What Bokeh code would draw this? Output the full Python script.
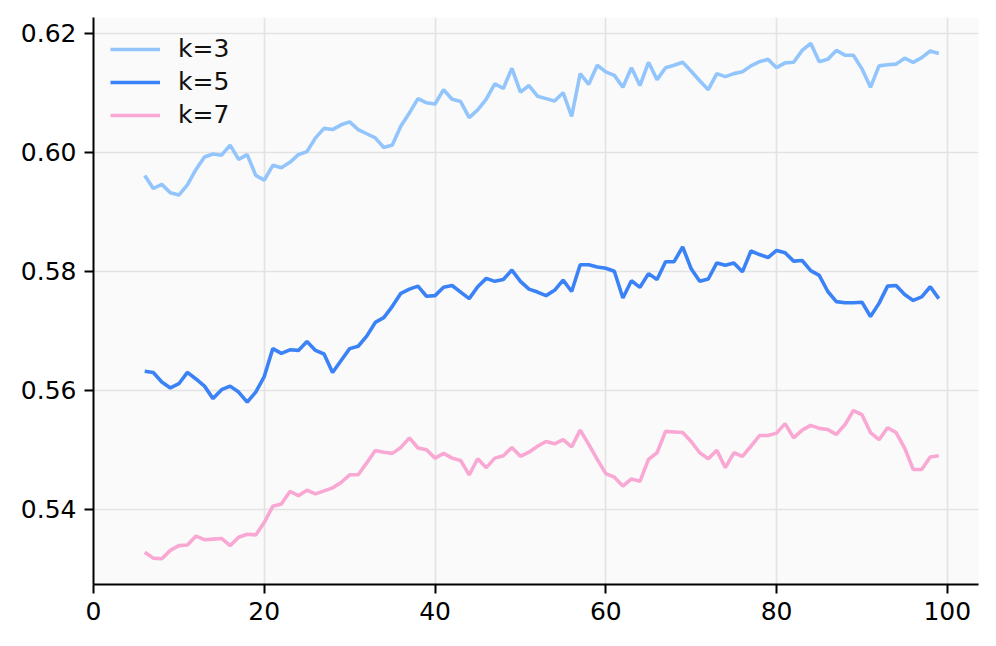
from bokeh.plotting import figure
from bokeh.models import FixedTicker, PrintfTickFormatter, Range1d, Legend, LegendItem
from bokeh.embed import file_html
from bokeh.resources import INLINE

x = list(range(6, 100))

k3 = [0.5961, 0.5939, 0.5946, 0.5932, 0.5928, 0.5945, 0.5971, 0.5992, 0.5997, 0.5995,
      0.6012, 0.5988, 0.5996, 0.5961, 0.5953, 0.5978, 0.5974, 0.5983, 0.5996, 0.6001,
      0.6024, 0.6040, 0.6038, 0.6046, 0.6051, 0.6038, 0.6031, 0.6024, 0.6008,
      0.6012, 0.6044, 0.6066, 0.6090, 0.6083, 0.6081, 0.6105, 0.6089, 0.6085, 0.6058,
      0.6071, 0.6089, 0.6115, 0.6107, 0.6141, 0.6101, 0.6112, 0.6094, 0.6090, 0.6086,
      0.6100, 0.6060, 0.6132, 0.6114, 0.6146, 0.6135, 0.6129, 0.6109, 0.6142, 0.6112,
      0.6151, 0.6122, 0.6142,
      0.6146, 0.6151, 0.6136, 0.6120, 0.6105, 0.6132, 0.6127, 0.6132, 0.6135, 0.6145,
      0.6152, 0.6156, 0.6142, 0.6150, 0.6151, 0.6171, 0.6183, 0.6152, 0.6156, 0.6171,
      0.6163, 0.6163, 0.6140, 0.6109, 0.6145, 0.6147, 0.6148, 0.6158, 0.6151, 0.6159,
      0.6170, 0.6166]

k5 = [0.5632, 0.5630, 0.5614, 0.5604, 0.5611, 0.5630, 0.5619, 0.5607, 0.5586, 0.5601,
      0.5607, 0.5597, 0.5580, 0.5597, 0.5623, 0.5670, 0.5662, 0.5668, 0.5667, 0.5682,
      0.5667, 0.5661, 0.5630, 0.5650, 0.5670, 0.5674, 0.5691, 0.5714, 0.5722,
      0.5741, 0.5763, 0.5770, 0.5775, 0.5758, 0.5759, 0.5773, 0.5776, 0.5765, 0.5754,
      0.5774, 0.5788, 0.5783, 0.5786, 0.5802, 0.5783, 0.5770, 0.5765, 0.5759, 0.5768,
      0.5785, 0.5766, 0.5811, 0.5811, 0.5807, 0.5805, 0.5800, 0.5755, 0.5784, 0.5773,
      0.5796, 0.5786, 0.5816,
      0.5816, 0.5841, 0.5804, 0.5783, 0.5787, 0.5814, 0.5810, 0.5814, 0.5799, 0.5834,
      0.5828, 0.5823, 0.5835, 0.5831, 0.5817, 0.5818, 0.5801, 0.5793, 0.5766, 0.5749,
      0.5747, 0.5747, 0.5748, 0.5724, 0.5746, 0.5775, 0.5776, 0.5761, 0.5751, 0.5757,
      0.5774, 0.5754]

k7 = [0.5328, 0.5318, 0.5317, 0.5331, 0.5339, 0.5340, 0.5355, 0.5349, 0.5350, 0.5351,
      0.5339, 0.5353, 0.5358, 0.5357, 0.5378, 0.5405, 0.5409, 0.5430, 0.5423, 0.5432,
      0.5426, 0.5431, 0.5436, 0.5445, 0.5458, 0.5458, 0.5478, 0.5499, 0.5496,
      0.5494, 0.5504, 0.5520, 0.5503, 0.5500, 0.5486, 0.5494, 0.5486, 0.5482, 0.5458,
      0.5485, 0.5470, 0.5486, 0.5490, 0.5504, 0.5489, 0.5496, 0.5506, 0.5514, 0.5510,
      0.5517, 0.5505, 0.5533, 0.5509, 0.5484, 0.5460, 0.5454, 0.5439, 0.5451, 0.5447,
      0.5484, 0.5495, 0.5531,
      0.5530, 0.5529, 0.5514, 0.5495, 0.5485, 0.5499, 0.5470, 0.5495, 0.5489, 0.5506,
      0.5524, 0.5524, 0.5528, 0.5544, 0.5520, 0.5533, 0.5541, 0.5536, 0.5534, 0.5526,
      0.5542, 0.5566, 0.5559, 0.5529, 0.5517, 0.5537, 0.5529, 0.5503, 0.5467, 0.5467,
      0.5488, 0.5490]

labels = ["k=3", "k=5", "k=7"]
colors = ["#93c5fd", "#3b82f6", "#f9a8d4"]
x_ticks = [0, 20, 40, 60, 80, 100]
y_ticks = [0.54, 0.56, 0.58, 0.60, 0.62]

FONT = "DejaVu Sans"
FS = "25px"

p = figure(width=980, height=630, output_backend="svg", toolbar_location=None,
           x_range=Range1d(0, 103.65), y_range=Range1d(0.52737, 0.62263),
           min_border_left=93, min_border_right=2, min_border_top=17, min_border_bottom=46)

p.background_fill_color = "#fafafa"
p.border_fill_color = "white"
p.outline_line_color = None

items = []
for series, lab, col in zip([k3, k5, k7], labels, colors):
    r = p.line(x, series, line_color=col, line_width=3.6)
    items.append(LegendItem(label=lab, renderers=[r]))

legend = Legend(items=items, location="top_left")
legend.background_fill_alpha = 0
legend.border_line_color = None
legend.label_text_font = FONT
legend.label_text_font_size = FS
legend.label_text_color = "#111111"
legend.glyph_width = 50
legend.glyph_height = 24
legend.label_height = 24
legend.spacing = 4
legend.margin = 17
legend.padding = 10
legend.label_standoff = 18
p.add_layout(legend)

for ax in (p.xaxis[0], p.yaxis[0]):
    ax.axis_line_color = "black"
    ax.axis_line_width = 2
    ax.major_tick_line_color = "black"
    ax.major_tick_line_width = 2
    ax.major_tick_out = 9
    ax.major_tick_in = 0
    ax.minor_tick_line_color = None
    ax.major_label_text_font = FONT
    ax.major_label_text_font_size = FS
    ax.major_label_text_color = "black"
    ax.major_label_standoff = 8

p.xaxis.ticker = FixedTicker(ticks=x_ticks)
p.yaxis.ticker = FixedTicker(ticks=y_ticks)
p.yaxis.formatter = PrintfTickFormatter(format="%.2f")

p.xgrid.ticker = FixedTicker(ticks=x_ticks)
p.ygrid.ticker = FixedTicker(ticks=y_ticks)
p.grid.grid_line_color = "#e3e3e3"
p.grid.grid_line_width = 1.6

open("out.html", "w").write(file_html(p, INLINE))
